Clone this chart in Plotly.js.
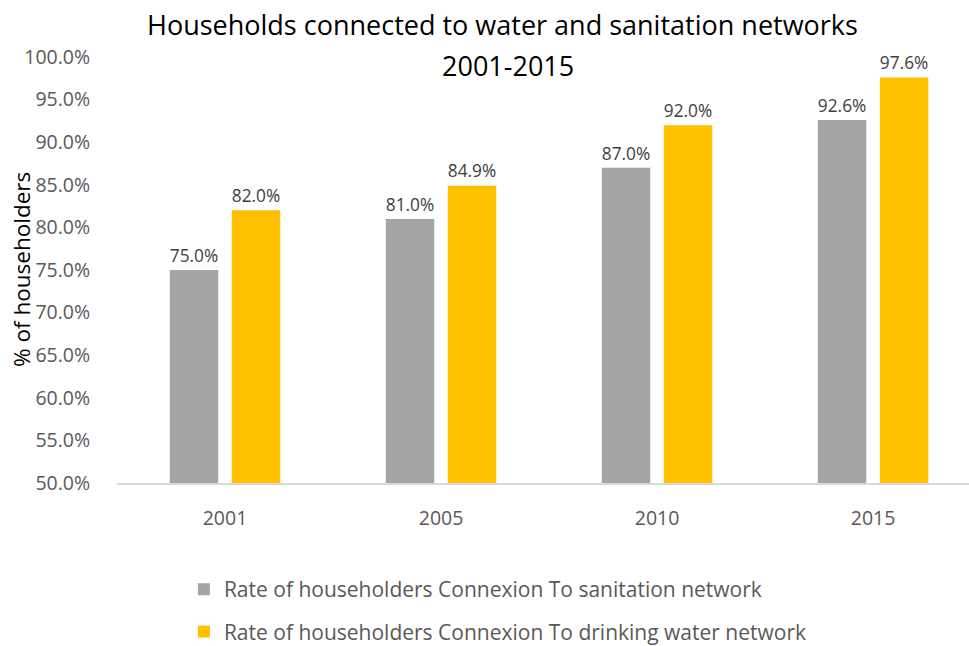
<!DOCTYPE html>
<html>
<head>
<meta charset="utf-8">
<script src="https://cdn.plot.ly/plotly-3.0.1.min.js"></script>
<style>html,body{margin:0;padding:0;background:#fff;}#chart{width:969px;height:646px;}</style>
</head>
<body>
<div id="chart"></div>
<script>
const years = ['2001', '2005', '2010', '2015'];
const sanitation = [0.750, 0.810, 0.870, 0.926];
const drinkingWater = [0.820, 0.849, 0.920, 0.976];
const seriesNames = [
  'Rate of householders Connexion To sanitation network',
  'Rate of householders Connexion To drinking water network'
];
const titleLines = ['Households connected to water and sanitation networks', '2001-2015'];
const yTitle = '% of householders';
const yTicks = [0.50, 0.55, 0.60, 0.65, 0.70, 0.75, 0.80, 0.85, 0.90, 0.95, 1.00];

const FONT = 'Open Sans, Noto Sans, sans-serif';
const labelFont = {family: FONT, size: 20, color: '#404040'};

const traces = [
  {type: 'bar', x: years, y: sanitation, name: seriesNames[0],
   marker: {color: '#a5a5a5'}, texttemplate: '%{y:.1%}', textposition: 'outside',
   textfont: labelFont, cliponaxis: false, legendgroup: 'a', hoverinfo: 'x+y'},
  {type: 'bar', x: years, y: drinkingWater, name: seriesNames[1],
   marker: {color: '#ffc000'}, texttemplate: '%{y:.1%}', textposition: 'outside',
   textfont: labelFont, cliponaxis: false, legendgroup: 'b', hoverinfo: 'x+y'}
];

const titleFont = {family: FONT, size: 27, color: '#000'};

const layout = {
  width: 969, height: 646,
  margin: {l: 117, r: 0, t: 57, b: 163, autoexpand: false},
  paper_bgcolor: '#fff', plot_bgcolor: '#fff',
  barmode: 'group', bargap: 0.426, bargroupgap: 0.218,
  xaxis: {type: 'category', range: [-0.5, 3.444], showgrid: false, zeroline: false,
          showline: true, linecolor: '#d9d9d9', linewidth: 2,
          ticks: 'outside', ticklen: 17, tickcolor: 'rgba(0,0,0,0)',
          tickfont: {family: FONT, size: 19.5, color: '#595959'}},
  yaxis: {range: [0.5, 1.0], tickvals: yTicks, tickformat: '.1%',
          showgrid: false, zeroline: false, showline: false,
          ticks: 'outside', ticklen: 22, tickcolor: 'rgba(0,0,0,0)',
          tickfont: {family: FONT, size: 19.5, color: '#595959'}},
  annotations: [
    {text: titleLines[0], xref: 'paper', yref: 'paper', x: 0.453, y: 1.0, yshift: 57 - 24,
     xanchor: 'center', yanchor: 'middle', showarrow: false, font: titleFont},
    {text: titleLines[1], xref: 'paper', yref: 'paper', x: 0.459, y: 1.0, yshift: 57 - 65,
     xanchor: 'center', yanchor: 'middle', showarrow: false, font: titleFont},
    {text: yTitle, xref: 'paper', yref: 'paper', x: 0, xshift: 21 - 117, y: 0.5,
     xanchor: 'center', yanchor: 'middle', textangle: -90, showarrow: false,
     font: {family: FONT, size: 22.5, color: '#000'}}
  ],
  showlegend: true,
  legend: {orientation: 'v', x: 0.0785, xanchor: 'left', y: -0.202, yanchor: 'top',
           font: {family: FONT, size: 21, color: '#595959'}, tracegroupgap: 12,
           traceorder: 'grouped', bgcolor: 'rgba(0,0,0,0)'}
};

Plotly.newPlot('chart', traces, layout, {displayModeBar: false, staticPlot: true});
</script>
</body>
</html>
